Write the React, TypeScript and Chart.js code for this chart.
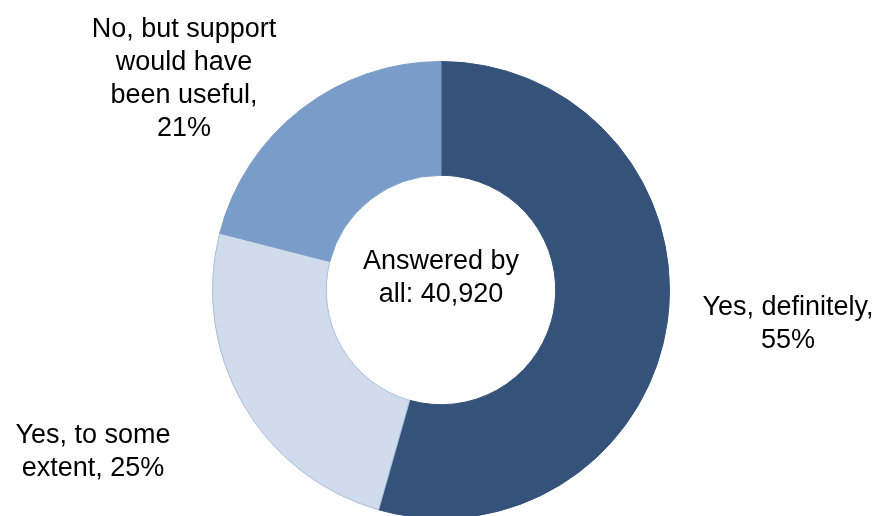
import React, { useEffect, useRef } from "react";
import { Chart, registerables } from "chart.js";

Chart.register(...registerables);

const categories = ["Yes, definitely", "Yes, to some extent", "No, but support would have been useful"];
const shares = [54.4, 24.6, 21.0];
const sliceColors = ["#34527A", "#D0DCEC", "#7A9CC8"];
const sliceBorders = ["#34527A", "#A9BEDC", "#7A9CC8"];
const labelLines = [
  ["Yes, definitely,", "55%"],
  ["Yes, to some", "extent, 25%"],
  ["No, but support", "would have", "been useful,", "21%"],
];
const centerLines = ["Answered by", "all: 40,920"];

const FONT = '27px "Liberation Sans", Arial, sans-serif';

const labelPlugin = {
  id: "labels",
  afterDraw(chart: any) {
    const ctx = chart.ctx;
    const meta = chart.getDatasetMeta(0);
    const a0 = meta.data[0];
    const cx = a0.x;
    const cy = a0.y;
    ctx.save();
    ctx.font = FONT;
    ctx.fillStyle = "#000";
    ctx.textAlign = "center";
    ctx.textBaseline = "alphabetic";
    const lh = 33;
    centerLines.forEach((t, i) => ctx.fillText(t, cx, cy - 21 + i * lh));
    const anchors = [
      { x: cx + 347, y: cy + 25 },
      { x: cx - 348, y: cy + 153 },
      { x: cx - 257, y: cy - 253 },
    ];
    labelLines.forEach((lines, k) => {
      lines.forEach((t, i) => ctx.fillText(t, anchors[k].x, anchors[k].y + i * lh));
    });
    ctx.restore();
  },
};

export default function App() {
  const ref = useRef<HTMLCanvasElement | null>(null);
  useEffect(() => {
    if (!ref.current) return;
    const chart = new Chart(ref.current, {
      type: "doughnut",
      data: {
        labels: categories,
        datasets: [
          {
            data: shares,
            backgroundColor: sliceColors,
            borderColor: sliceBorders,
            borderWidth: 1,
          },
        ],
      },
      options: {
        animation: false,
        responsive: false,
        cutout: "50.2%",
        rotation: 0,
        layout: { padding: { top: 61, bottom: 21, left: 211, right: 211 } },
        plugins: {
          legend: { display: false },
          tooltip: { enabled: false },
        },
      },
      plugins: [labelPlugin],
    });
    return () => chart.destroy();
  }, []);
  return (
    <div
      style={{
        position: "fixed",
        left: 0,
        top: 0,
        width: 882,
        height: 516,
        overflow: "hidden",
        background: "#fff",
      }}
    >
      <canvas ref={ref} width={882} height={540} style={{ display: "block" }} />
    </div>
  );
}
